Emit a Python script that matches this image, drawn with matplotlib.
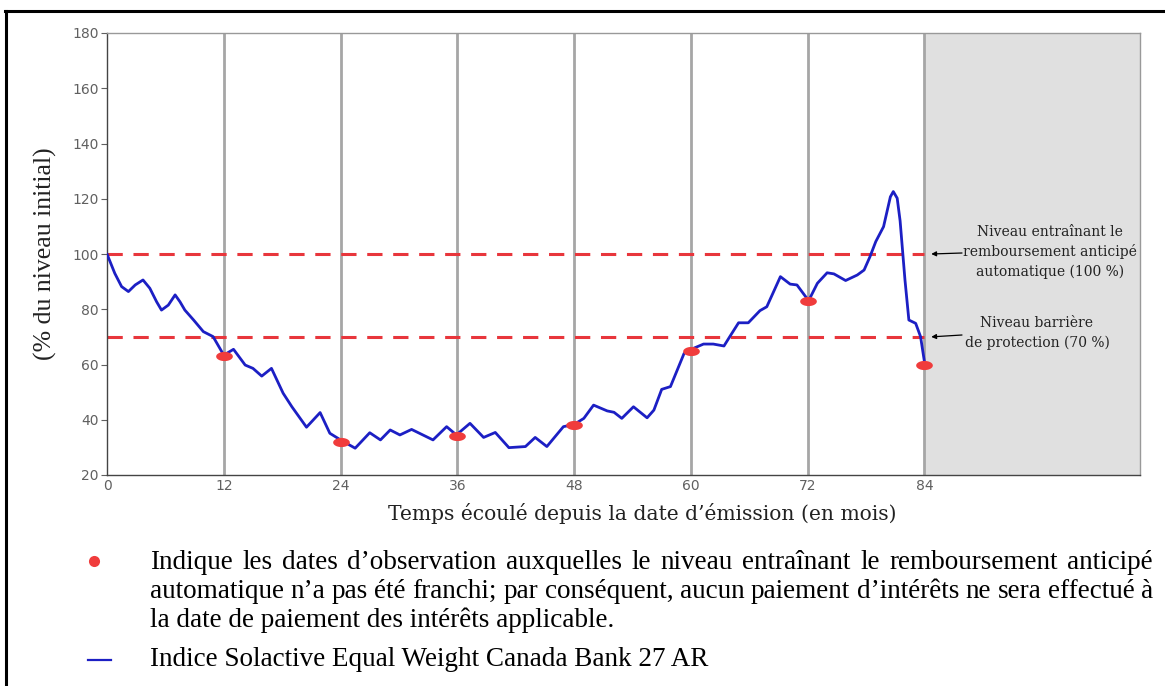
import numpy as np
import matplotlib
matplotlib.use("Agg")
import matplotlib.pyplot as plt
from matplotlib.path import Path
from matplotlib.lines import Line2D

# ---------------- data ----------------
months = [0, 0.8, 1.5, 2.2, 2.9, 3.7, 4.4, 5.1, 5.6, 6.3, 7.0, 7.5, 8.0, 8.9,
          9.9, 10.9, 12.0, 13.0, 14.2, 15.0, 15.9, 16.9, 18.1, 19.0, 20.5,
          21.9, 22.9, 24.0, 25.5, 27.0, 28.1, 29.1, 30.1, 31.3, 33.5, 34.9,
          35.9, 37.3, 38.7, 39.9, 41.3, 43.0, 44.0, 45.2, 46.9, 48.0, 49.0,
          50.0, 51.4, 52.1, 52.9, 54.1, 55.5, 56.2, 57.0, 57.9, 59.3, 60.1,
          61.3, 62.3, 63.4, 64.0, 64.9, 65.9, 67.1, 67.8, 69.2, 70.2, 70.9,
          72.1, 73.0, 74.0, 74.7, 75.9, 77.1, 77.8, 78.4, 79.0, 79.8, 80.5,
          80.8, 81.2, 81.5, 82.0, 82.4, 83.1, 83.6, 84.0]
index_level = [100, 93.0, 88.2, 86.4, 88.8, 90.6, 87.6, 82.7, 79.7, 81.5,
               85.2, 82.7, 79.7, 76.1, 71.9, 70.1, 63.4, 65.5, 59.8, 58.6,
               55.8, 58.6, 49.6, 44.7, 37.3, 42.6, 35.1, 32.7, 29.7, 35.3,
               32.7, 36.3, 34.5, 36.5, 32.7, 37.5, 34.5, 38.7, 33.6, 35.4,
               29.9, 30.3, 33.6, 30.3, 37.5, 38.3, 40.5, 45.3, 43.2, 42.7,
               40.5, 44.7, 40.7, 43.5, 51.0, 52.0, 64.0, 65.6, 67.4, 67.4,
               66.7, 70.1, 75.1, 75.1, 79.5, 80.9, 91.8, 89.1, 88.8, 83.1,
               89.4, 93.2, 92.8, 90.4, 92.4, 94.2, 99.0, 104.5, 109.9, 120.7,
               122.6, 120.2, 112.0, 90.6, 76.1, 74.9, 70.1, 61.0]

obs_months = [12, 24, 36, 48, 60, 72, 84]
obs_levels = [63, 32, 34, 38, 65, 83, 60]

autocall_level = 100
barrier_level = 70
x_ticks = [0, 12, 24, 36, 48, 60, 72, 84]
y_ticks = [20, 40, 60, 80, 100, 120, 140, 160, 180]

ylabel = "(% du niveau initial)"
xlabel = "Temps écoulé depuis la date d\u2019émission (en mois)"
ann_autocall = "Niveau entraînant le\nremboursement anticipé\nautomatique (100 %)"
ann_barrier = "Niveau barrière\nde protection (70 %)"
legend_dot_lines = [
    "Indique les dates d\u2019observation auxquelles le niveau entraînant le remboursement anticipé",
    "automatique n\u2019a pas été franchi; par conséquent, aucun paiement d\u2019intérêts ne sera effectué à",
    "la date de paiement des intérêts applicable.",
]
legend_line_text = "Indice Solactive Equal Weight Canada Bank 27 AR"

# ---------------- figure ----------------
W, H = 1165, 686
fig = plt.figure(figsize=(W / 100, H / 100), dpi=100)

def fx(px):
    return px / W

def fy(py):
    return 1 - py / H

ax = fig.add_axes([fx(107), fy(475), fx(1139.5) - fx(107), fy(33) - fy(475)])
xmax = 106.1
ax.set_xlim(0, xmax)
ax.set_ylim(20, 180)

# shaded area after maturity
ax.axvspan(84, xmax, color="#e0e0e0", zorder=0, lw=0)

# vertical observation grid lines
for m in x_ticks[1:]:
    ax.axvline(m, color="#a6a6a6", lw=2.0, zorder=1)

# threshold dashed lines
for lvl in (autocall_level, barrier_level):
    ax.plot([0, 84], [lvl, lvl], color="#e8363c", lw=2.2, dashes=(5, 3.5), zorder=2)

# index curve
ax.plot(months, index_level, color="#1c1fc4", lw=2.0, zorder=3,
        solid_joinstyle="round", solid_capstyle="round")

# observation markers (flattened ellipses)
t = np.linspace(0, 2 * np.pi, 60)
ell = Path(np.column_stack([np.cos(t), 0.55 * np.sin(t)]), closed=True)
ax.plot(obs_months, obs_levels, ls="none", marker=ell, markersize=12,
        color="#f03c3c", markeredgewidth=0, zorder=4)

ax.set_xticks(x_ticks)
ax.set_yticks(y_ticks)
ax.tick_params(axis="both", labelsize=10, colors="#606060", length=4, width=0.8, pad=2)
ax.tick_params(axis="x", length=0, pad=3)
for s in ("left", "bottom"):
    ax.spines[s].set_color("#444444")
    ax.spines[s].set_linewidth(1.0)
for s in ("top", "right"):
    ax.spines[s].set_color("#999999")
    ax.spines[s].set_linewidth(1.0)

# axis labels
fig.text(fx(45), fy(254), ylabel, rotation=90, ha="center", va="center",
         fontsize=18.5, family="Liberation Serif", color="#222222")
fig.text(fx(642), fy(513), xlabel, ha="center", va="center",
         fontsize=14.6, family="DejaVu Serif", color="#222222")

# annotations with arrows
ax.annotate("", xy=(84.7, autocall_level), xycoords="data",
            xytext=(fx(962), fy(253)), textcoords="figure fraction",
            arrowprops=dict(arrowstyle="-|>", color="black", lw=0.9, mutation_scale=7,
                            shrinkA=0, shrinkB=0))
fig.text(fx(1050), fy(252), ann_autocall, ha="center", va="center", fontsize=10,
         family="DejaVu Serif", color="#222222", linespacing=1.45)
ax.annotate("", xy=(84.7, barrier_level), xycoords="data",
            xytext=(fx(962), fy(335)), textcoords="figure fraction",
            arrowprops=dict(arrowstyle="-|>", color="black", lw=0.9, mutation_scale=7,
                            shrinkA=0, shrinkB=0))
fig.text(fx(1037), fy(333), ann_barrier, ha="center", va="center", fontsize=10,
         family="DejaVu Serif", color="#222222", linespacing=1.45)

# frame lines (top & left)
fig.add_artist(Line2D([fx(6), fx(6)], [fy(11), 0], color="black", lw=2.2,
                      transform=fig.transFigure))
fig.add_artist(Line2D([fx(5), 1], [fy(11), fy(11)], color="black", lw=2.2,
                      transform=fig.transFigure))

# legend explanation below
fig.add_artist(Line2D([fx(94)], [fy(561)], marker="o", markersize=8, color="#f03c3c",
                      markeredgewidth=0, transform=fig.transFigure))
fig.add_artist(Line2D([fx(88), fx(111)], [fy(660), fy(660)], color="#1c1fc4", lw=1.6,
                      transform=fig.transFigure))

renderer = fig.canvas.get_renderer()
txt_kw = dict(fontsize=19.5, family="Liberation Serif", color="black", va="baseline")
x_left, x_right = 150, 1153
baselines = [569, 598, 627]
for i, (line, base) in enumerate(zip(legend_dot_lines, baselines)):
    words = line.split(" ")
    if i < 2:
        arts = [fig.text(0, fy(base), w, **txt_kw) for w in words]
        widths = [a.get_window_extent(renderer).width for a in arts]
        gap = ((x_right - x_left) - sum(widths)) / (len(words) - 1)
        x = x_left
        for a, w in zip(arts, widths):
            a.set_x(fx(x))
            x += w + gap
    else:
        fig.text(fx(x_left), fy(base), line, **txt_kw)
fig.text(fx(x_left), fy(666), legend_line_text, **txt_kw)

fig.savefig("out.png", dpi=100)
